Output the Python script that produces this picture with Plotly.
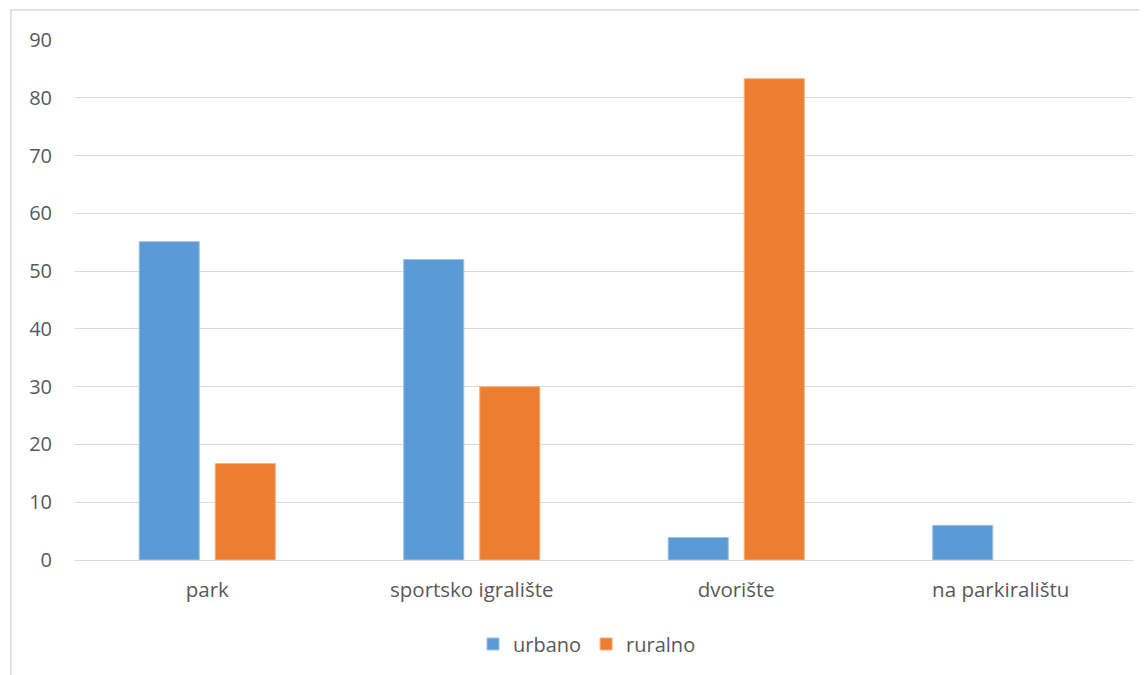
import plotly.graph_objects as go

categories = ["park", "sportsko igralište", "dvorište", "na parkiralištu"]
urbano = [55.1, 52.0, 3.9, 6.0]
ruralno = [16.7, 30.0, 83.3, 0.0]
y_ticks = [0, 10, 20, 30, 40, 50, 60, 70, 80, 90]

font_family = "Open Sans, Noto Sans, sans-serif"
text_color = "#595959"

fig = go.Figure()
fig.add_trace(go.Bar(name="urbano", x=categories, y=urbano,
                     marker=dict(color="#5B9BD5",
                                 line=dict(color="#9DC3E6", width=[1 if v > 0 else 0 for v in urbano]))))
fig.add_trace(go.Bar(name="ruralno", x=categories, y=ruralno,
                     marker=dict(color="#ED7D31",
                                 line=dict(color="#F4B183", width=[1 if v > 0 else 0 for v in ruralno]))))

L, T, R, B = 67, 32, 22, 123
pw = 1147 - L - R
ph = 675 - T - B

fig.update_layout(
    width=1147, height=675,
    barmode="group", bargap=0.425, bargroupgap=0.21,
    plot_bgcolor="white", paper_bgcolor="white",
    margin=dict(l=L, r=R, t=T, b=B),
    font=dict(family=font_family, size=20, color=text_color),
    showlegend=True,
    legend=dict(orientation="h", x=0.5 - 17 / pw, xanchor="center", y=-0.1615, yanchor="middle",
                font=dict(size=20, color=text_color), itemwidth=30, traceorder="normal"),
    xaxis=dict(showgrid=False, showline=False, ticks="", tickfont=dict(size=20.5),
               ticklabelstandoff=15),
    yaxis=dict(range=[0, 90], tickvals=y_ticks, showgrid=True, gridcolor="#D9D9D9",
               gridwidth=1, zeroline=True, zerolinecolor="#D9D9D9", zerolinewidth=1,
               showline=False, ticks="", ticklabelstandoff=22, tickfont=dict(size=20)),
    shapes=[dict(type="rect", xref="paper", yref="paper",
                 x0=(3 - L) / pw, x1=1.2, y0=-0.5, y1=1 + (T - 2) / ph,
                 line=dict(color="#D9D9D9", width=1.5), fillcolor="rgba(0,0,0,0)", layer="below")],
)

fig.write_html("out.html")
